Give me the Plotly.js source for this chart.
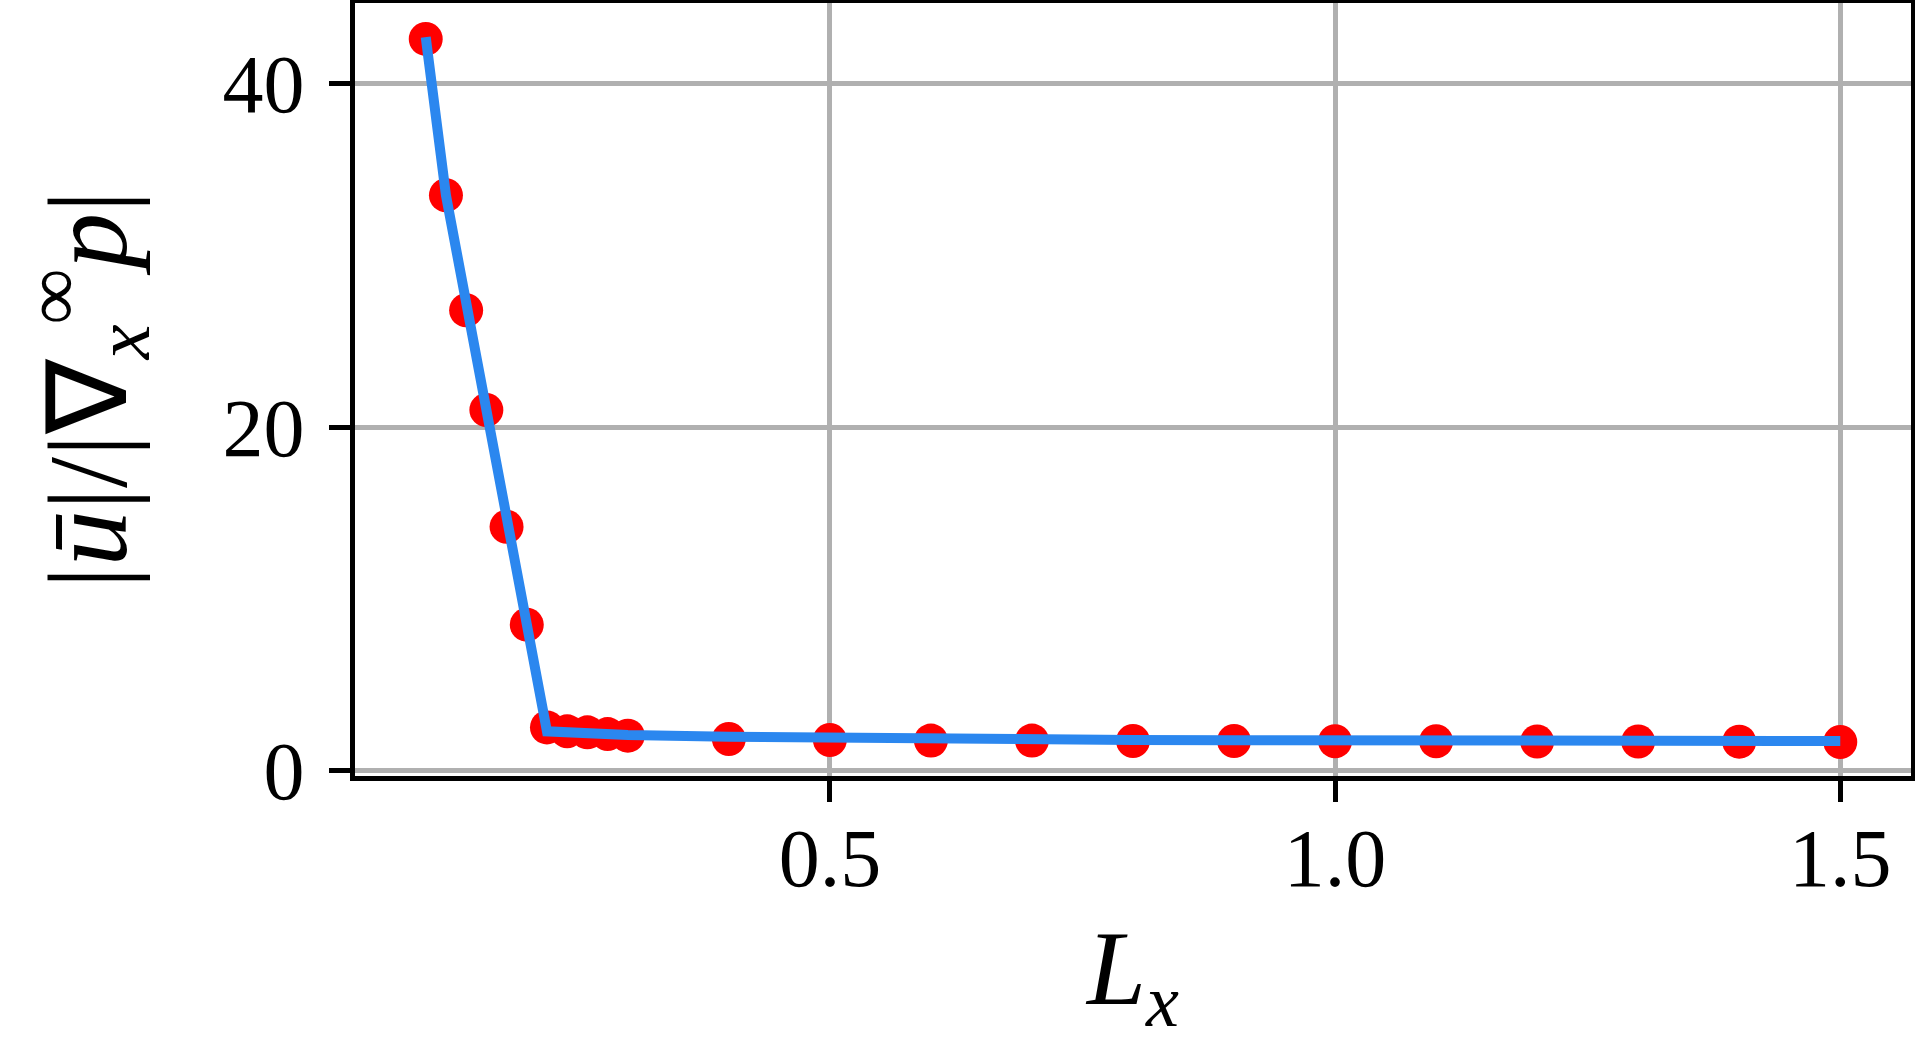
<!DOCTYPE html>
<html>
<head>
<meta charset="utf-8">
<script src="https://cdn.plot.ly/plotly-3.0.1.min.js"></script>
<style>
  html, body { margin: 0; padding: 0; background: #ffffff; }
  #chart { width: 1915px; height: 1056px; }
</style>
</head>
<body>
<div id="chart"></div>
<script>
// Measured data (red markers)
const lxPoints = [0.10, 0.12, 0.14, 0.16, 0.18, 0.20, 0.22, 0.24, 0.26, 0.28, 0.30,
                  0.4, 0.5, 0.6, 0.7, 0.8, 0.9, 1.0, 1.1, 1.2, 1.3, 1.4, 1.5];
const ratioPoints = [42.6, 33.5, 26.8, 21.0, 14.2, 8.5, 2.52, 2.29, 2.23, 2.13, 2.04,
                     1.84, 1.79, 1.75, 1.75, 1.73, 1.73, 1.71, 1.71, 1.70, 1.70, 1.69, 1.67];

// Model curve (blue line)
const lxLine = [0.10, 0.12, 0.22, 0.30, 0.4, 0.5, 0.6, 0.7, 0.8, 0.9, 1.0, 1.1, 1.2, 1.3, 1.4, 1.5];
const ratioLine = [42.7, 33.5, 2.29, 2.08, 1.97, 1.90, 1.85, 1.81, 1.79, 1.77, 1.76, 1.75, 1.74, 1.74, 1.73, 1.73];

// Tick labels
const xTicks = [0.5, 1.0, 1.5];
const xTickText = ['0.5', '1.0', '1.5'];
const yTicks = [0, 20, 40];
const yTickText = ['0', '20', '40'];

const serif = 'Liberation Serif, Times New Roman, serif';

const traces = [
  {
    x: lxPoints, y: ratioPoints,
    type: 'scatter', mode: 'markers',
    marker: { color: '#ff0000', size: 34, line: { width: 0 } },
    hoverinfo: 'skip', showlegend: false
  },
  {
    x: lxLine, y: ratioLine,
    type: 'scatter', mode: 'lines',
    line: { color: '#2b87ef', width: 10 },
    hoverinfo: 'skip', showlegend: false
  }
];

const axisCommon = {
  showline: true, linecolor: '#000000', linewidth: 5, mirror: true,
  ticks: 'outside', ticklen: 21, tickwidth: 5, tickcolor: '#000000',
  showgrid: true, gridcolor: '#b0b0b0', gridwidth: 5,
  zeroline: false,
  tickfont: { family: serif, size: 82, color: '#000000' }
};

const layout = {
  width: 1915, height: 1056,
  paper_bgcolor: '#ffffff', plot_bgcolor: '#ffffff',
  margin: { l: 355, r: 4, t: 3, b: 280 },
  showlegend: false,
  xaxis: Object.assign({}, axisCommon, {
    range: [0.03, 1.57],
    tickmode: 'array', tickvals: xTicks, ticktext: xTickText,
    ticklabelstandoff: -14,
    title: { text: '<i>L<sub>x</sub></i>', font: { family: serif, size: 106, color: '#000000' }, standoff: 28 }
  }),
  yaxis: Object.assign({}, axisCommon, {
    range: [-0.31, 44.69],
    tickmode: 'array', tickvals: yTicks, ticktext: yTickText,
    ticklabelstandoff: 8,
    title: { text: '|<i>ū</i>|/|∇<sub><i>x</i></sub><sup>∞</sup><i>p</i>|', font: { family: serif, size: 112, color: '#000000' }, standoff: 60 }
  })
};

Plotly.newPlot('chart', traces, layout, { displayModeBar: false, staticPlot: true });
</script>
</body>
</html>
